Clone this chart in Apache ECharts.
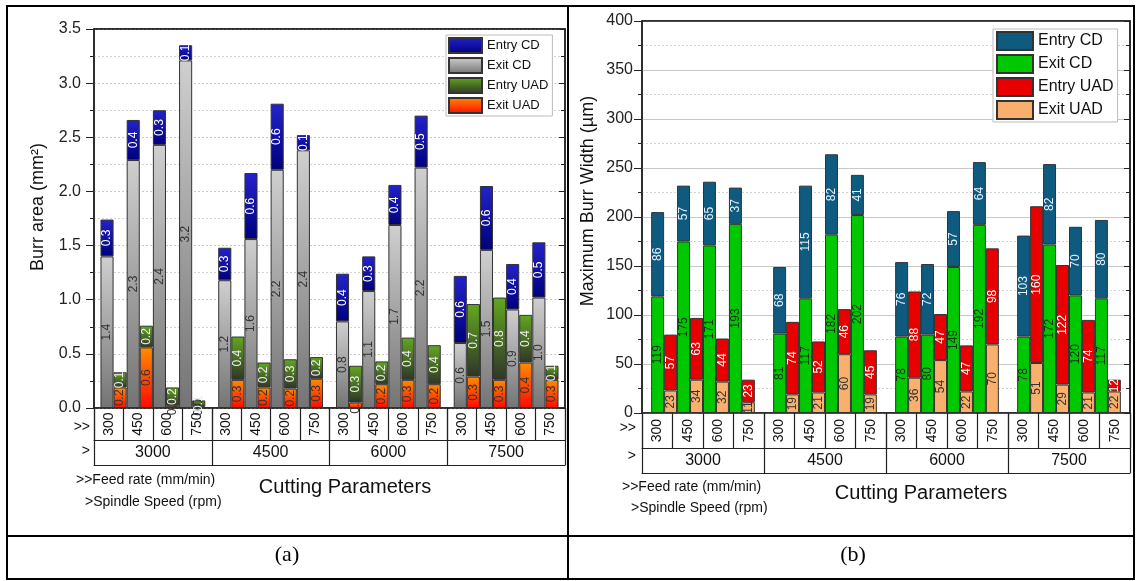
<!DOCTYPE html>
<html>
<head>
<meta charset="utf-8">
<script src="https://cdn.jsdelivr.net/npm/echarts@6.0.0/dist/echarts.min.js"></script>
<title>Burr area / burr width</title>
</head>
<body style="margin:0;background:#fff;">
<div id="main" style="width:1136px;height:581px;"></div>
<script>
// categories
var spindleSpeeds = ['3000', '4500', '6000', '7500'];
var feedRates = ['300', '450', '600', '750'];

// (a) burr area, mm2 -- order: spindle 3000..7500, feed 300..750
var exitCdA   = [1.40, 2.29, 2.43, 3.21, 1.18, 1.56, 2.20, 2.38, 0.80, 1.08, 1.69, 2.22, 0.60, 1.46, 0.91, 1.02];
var entryCdA  = [0.34, 0.37, 0.32, 0.14, 0.30, 0.61, 0.61, 0.14, 0.44, 0.32, 0.37, 0.48, 0.62, 0.59, 0.42, 0.51];
var exitUadA  = [0.19, 0.56, 0.02, 0.01, 0.26, 0.19, 0.18, 0.27, 0.05, 0.22, 0.26, 0.22, 0.29, 0.26, 0.42, 0.26];
var entryUadA = [0.14, 0.20, 0.17, 0.06, 0.40, 0.23, 0.27, 0.20, 0.34, 0.21, 0.39, 0.36, 0.67, 0.76, 0.44, 0.13];

// (b) max burr width, um
var exitCdB   = [119, 175, 171, 193, 81, 117, 182, 202, 78, 80, 149, 192, 78, 172, 120, 117];
var entryCdB  = [86, 57, 65, 37, 68, 115, 82, 41, 76, 72, 57, 64, 103, 82, 70, 80];
var exitUadB  = [23, 34, 32, 11, 19, 21, 60, 19, 36, 54, 22, 70, 51, 29, 21, 22];
var entryUadB = [57, 63, 44, 23, 74, 52, 46, 45, 88, 47, 47, 98, 160, 122, 74, 12];

var FONT = '"Liberation Sans", Arial, sans-serif';

var feedLabels = [];
spindleSpeeds.forEach(function () { feedRates.forEach(function (f) { feedLabels.push(f); }); });

function pick(arr, f) {
  return spindleSpeeds.map(function (s, i) { return arr[i * 4 + f]; });
}
function grad(top, bottom) {
  return { type: 'linear', x: 0, y: 0, x2: 0, y2: 1,
    colorStops: [{ offset: 0, color: top }, { offset: 1, color: bottom }] };
}

var colorsA = {
  entryCd: grad('#2323cc', '#00007e'),
  exitCd: grad('#cfcfcf', '#747474'),
  entryUad: grad('#62a820', '#2f3529'),
  exitUad: grad('#ff8c00', '#ff0a00')
};
var colorsB = { entryCd: '#0f5a7f', exitCd: '#00c800', entryUad: '#e80000', exitUad: '#f9b06c' };

function barSeries(name, stack, data, color, textColor, xi, yi, gap, fmt) {
  return {
    type: 'bar', name: name, stack: stack, data: data,
    xAxisIndex: xi, yAxisIndex: yi,
    barGap: '0%', barCategoryGap: gap,
    itemStyle: { color: color, borderColor: '#333', borderWidth: 1 },
    label: {
      show: true, position: 'inside', rotate: 90, fontSize: 12, fontFamily: FONT,
      color: textColor, formatter: fmt
    }
  };
}

var series = [];
var fmtA = function (p) { return p.value.toFixed(1); };
var fmtB = function (p) { return String(p.value); };
for (var f = 0; f < 4; f++) {
  series.push(barSeries('Exit CD', 'acd' + f, pick(exitCdA, f), colorsA.exitCd, '#333', 0, 0, '11%', fmtA));
  series.push(barSeries('Entry CD', 'acd' + f, pick(entryCdA, f), colorsA.entryCd, '#fff', 0, 0, '11%', fmtA));
  series.push(barSeries('Exit UAD', 'auad' + f, pick(exitUadA, f), colorsA.exitUad, '#333', 0, 0, '11%', fmtA));
  series.push(barSeries('Entry UAD', 'auad' + f, pick(entryUadA, f), colorsA.entryUad, '#eee', 0, 0, '11%', fmtA));
}
for (var f = 0; f < 4; f++) {
  series.push(barSeries('Exit CD (b)', 'bcd' + f, pick(exitCdB, f), colorsB.exitCd, '#163016', 5, 2, '15%', fmtB));
  series.push(barSeries('Entry CD (b)', 'bcd' + f, pick(entryCdB, f), colorsB.entryCd, '#e4f2ff', 5, 2, '15%', fmtB));
  series.push(barSeries('Exit UAD (b)', 'buad' + f, pick(exitUadB, f), colorsB.exitUad, '#333', 5, 2, '15%', fmtB));
  series.push(barSeries('Entry UAD (b)', 'buad' + f, pick(entryUadB, f), colorsB.entryUad, '#fff', 5, 2, '15%', fmtB));
}

var black = { color: '#222', width: 1.5 };

function tableAxes(gi, feedH, spinH) {
  return [
    { type: 'category', gridIndex: gi, data: spindleSpeeds, position: 'bottom',
      axisLine: { onZero: false, lineStyle: black },
      axisTick: { show: true, length: feedH + spinH, interval: 0, lineStyle: { color: '#222', width: 1.2 } },
      axisLabel: { show: false } },
    { type: 'category', gridIndex: gi, data: feedLabels, position: 'bottom',
      axisLine: { show: false, onZero: false },
      axisTick: { show: true, length: feedH, interval: 0, lineStyle: { color: '#222', width: 1.2 } },
      axisLabel: { interval: 0, rotate: 90, fontSize: 14, margin: (feedH - 23) / 2, color: '#111', fontFamily: FONT } },
    { type: 'category', gridIndex: gi, data: spindleSpeeds, position: 'bottom', offset: feedH,
      axisLine: { onZero: false, lineStyle: { color: '#222', width: 1.2 } },
      axisTick: { show: false },
      axisLabel: { fontSize: 16, margin: 5, color: '#111', fontFamily: FONT } },
    { type: 'category', gridIndex: gi, data: spindleSpeeds, position: 'bottom', offset: feedH + spinH,
      axisLine: { onZero: false, lineStyle: { color: '#222', width: 1.2 } },
      axisTick: { show: false }, axisLabel: { show: false } },
    // top frame line
    { type: 'category', gridIndex: gi, data: spindleSpeeds, position: 'top',
      axisLine: { onZero: false, lineStyle: black },
      axisTick: { show: false }, axisLabel: { show: false } }
  ];
}

function valueAxes(gi, max, interval, fmt, majorSolid, margin) {
  return [
    { type: 'value', gridIndex: gi, position: 'left', min: 0, max: max, interval: interval,
      axisLine: { show: true, lineStyle: black },
      axisTick: { show: true, length: 8, lineStyle: { color: '#222' } },
      minorTick: { show: true, splitNumber: 2, length: 4, lineStyle: { color: '#222' } },
      axisLabel: { fontSize: 16, color: '#222', margin: margin, fontFamily: FONT, formatter: fmt },
      splitLine: { show: true, lineStyle: majorSolid ? { color: '#c8c8c8', width: 1 } : { color: '#c8c8c8', type: [2, 2] } },
      minorSplitLine: { show: true, lineStyle: { color: '#d4d4d4', type: [2, 2] } } },
    { type: 'value', gridIndex: gi, position: 'right', min: 0, max: max, interval: interval,
      axisLine: { show: true, lineStyle: black },
      axisTick: { show: true, inside: true, length: 6, lineStyle: { color: '#222' } },
      minorTick: { show: true, splitNumber: 2, length: 4, lineStyle: { color: '#222' } },
      axisLabel: { show: false }, splitLine: { show: false } }
  ];
}

function txt(x, y, s, size, align) {
  return { type: 'text', z: 100,
    style: { text: s, x: x, y: y, fill: '#111', font: size + 'px ' + FONT,
      textAlign: align || 'left', textVerticalAlign: 'middle' } };
}
function vtxt(x, y, s, size) {
  return { type: 'text', z: 100, x: x, y: y, rotation: Math.PI / 2,
    style: { text: s, x: 0, y: 0, fill: '#111', font: size + 'px ' + FONT,
      textAlign: 'center', textVerticalAlign: 'middle' } };
}

var chart = echarts.init(document.getElementById('main'));
chart.setOption({
  animation: false,
  backgroundColor: '#fff',
  grid: [
    { left: 94, right: 1136 - 565, top: 29, bottom: 581 - 408, show: true, borderColor: '#222', borderWidth: 1.5, backgroundColor: '#fff', outerBoundsMode: 'none' },
    { left: 642, right: 1136 - 1130, top: 21, bottom: 581 - 413, show: true, borderColor: '#222', borderWidth: 1.5, backgroundColor: '#fff', outerBoundsMode: 'none' }
  ],
  xAxis: tableAxes(0, 32, 25).concat(tableAxes(1, 35, 25)),
  yAxis: valueAxes(0, 3.5, 0.5, function (v) { return v.toFixed(1); }, false, 13)
    .concat(valueAxes(1, 400, 50, null, true, 9)),
  legend: [
    { data: ['Entry CD', 'Exit CD', 'Entry UAD', 'Exit UAD'], orient: 'vertical',
      left: 446, top: 35, icon: 'rect', itemWidth: 33, itemHeight: 15, itemGap: 3,
      padding: [2, 4, 2, 2], borderColor: '#bbb', borderWidth: 1, backgroundColor: '#fff',
      textStyle: { fontSize: 13, color: '#111', fontFamily: FONT }, selectedMode: false },
    { data: ['Entry CD (b)', 'Exit CD (b)', 'Entry UAD (b)', 'Exit UAD (b)'], orient: 'vertical',
      left: 993, top: 29, icon: 'rect', itemWidth: 36, itemHeight: 18, itemGap: 3,
      padding: [2, 4, 2, 3], borderColor: '#bbb', borderWidth: 1, backgroundColor: '#fff',
      formatter: function (n) { return n.replace(' (b)', ''); },
      textStyle: { fontSize: 16, color: '#111', fontFamily: FONT }, selectedMode: false }
  ],
  graphic: [
    { type: 'rect', shape: { x: 7, y: 6, width: 1127, height: 573 }, style: { fill: 'none', stroke: '#000', lineWidth: 2 }, z: 100 },
    { type: 'line', shape: { x1: 568, y1: 6, x2: 568, y2: 579 }, style: { stroke: '#000', lineWidth: 2 }, z: 100 },
    { type: 'line', shape: { x1: 7, y1: 536, x2: 1134, y2: 536 }, style: { stroke: '#000', lineWidth: 2 }, z: 100 },
    vtxt(38, 207, 'Burr area (mm²)', 18),
    vtxt(588, 201, 'Maximum Burr Width (µm)', 18),
    txt(90, 427, '>>', 14, 'right'),
    txt(90, 451, '>', 14, 'right'),
    txt(76, 480, '>>Feed rate (mm/min)', 14),
    txt(85, 502, '>Spindle Speed (rpm)', 14),
    txt(345, 487, 'Cutting Parameters', 20, 'center'),
    txt(636, 428, '>>', 14, 'right'),
    txt(636, 456, '>', 14, 'right'),
    txt(622, 487, '>>Feed rate (mm/min)', 14),
    txt(631, 508, '>Spindle Speed (rpm)', 14),
    txt(921, 493, 'Cutting Parameters', 20, 'center'),
    { type: 'text', z: 100, style: { text: '(a)', x: 287, y: 555, fill: '#000', font: '22px "Liberation Serif", serif', textAlign: 'center', textVerticalAlign: 'middle' } },
    { type: 'text', z: 100, style: { text: '(b)', x: 853, y: 555, fill: '#000', font: '22px "Liberation Serif", serif', textAlign: 'center', textVerticalAlign: 'middle' } }
  ],
  series: series
});
</script>
</body>
</html>
